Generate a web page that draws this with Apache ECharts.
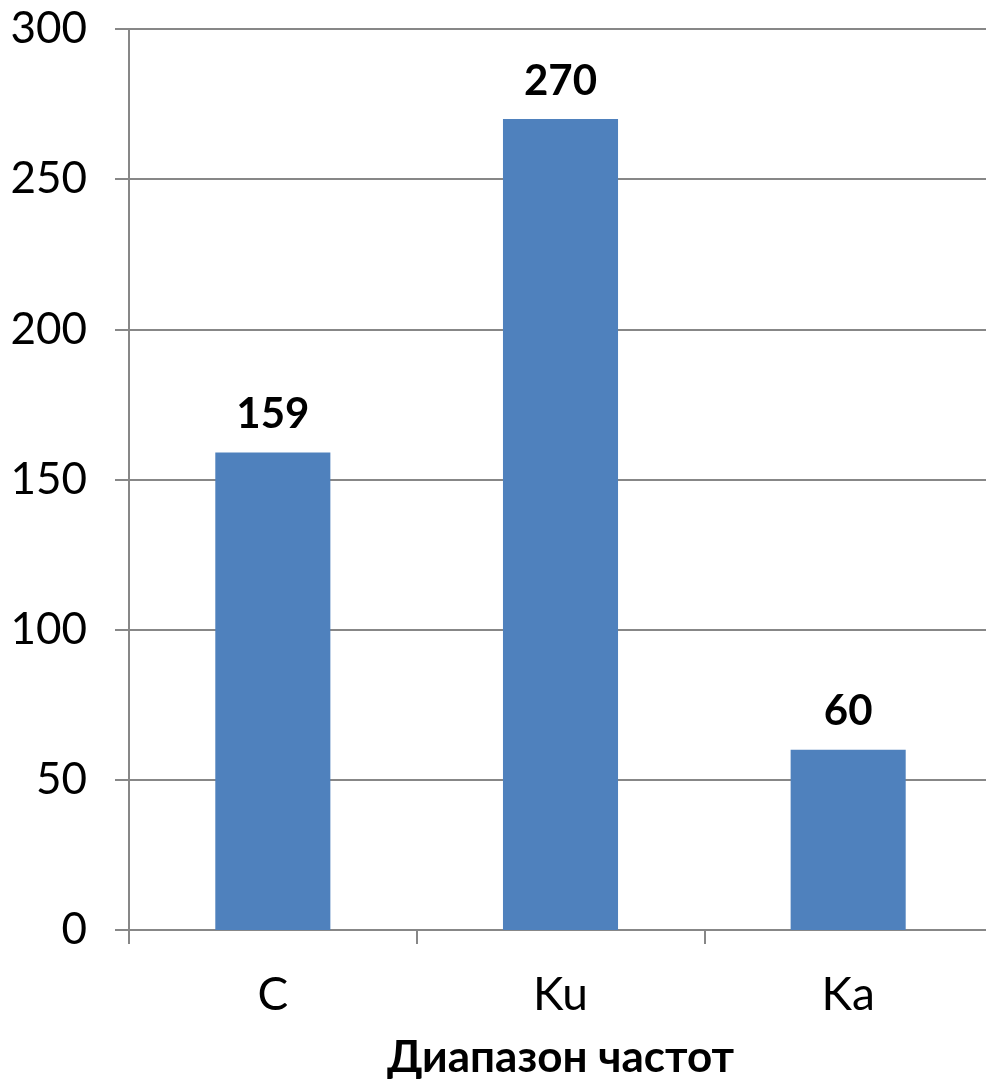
<!DOCTYPE html>
<html>
<head>
<meta charset="utf-8">
<script src="https://cdn.jsdelivr.net/npm/echarts@6/dist/echarts.min.js"></script>
<style>
  html, body { margin: 0; padding: 0; background: #fff; }
  #chart { width: 986px; height: 1081px; }
</style>
</head>
<body>
<div id="chart"></div>
<script>
// Frequency bands and counts
const categories = ['C', 'Ku', 'Ka'];
const values = [159, 270, 60];
const yTicks = [0, 50, 100, 150, 200, 250, 300];
const xAxisName = 'Диапазон частот';

const FONT = 'Lato, "Open Sans", sans-serif';
const AXIS_GRAY = '#878787';

const chart = echarts.init(document.getElementById('chart'), null, { renderer: 'canvas' });
chart.setOption({
  animation: false,
  backgroundColor: '#ffffff',
  grid: {
    left: 129, right: -6, top: 29, bottom: 151,
    containLabel: false,
    outerBoundsMode: 'none'
  },
  xAxis: {
    type: 'category',
    data: categories,
    name: xAxisName,
    nameLocation: 'middle',
    nameGap: 106,
    nameTextStyle: { fontFamily: FONT, fontSize: 44, fontWeight: 'bold', color: '#000' },
    axisLine: { lineStyle: { color: AXIS_GRAY, width: 2 } },
    axisTick: { show: true, length: 14, lineStyle: { color: AXIS_GRAY, width: 2 } },
    axisLabel: { fontFamily: FONT, fontSize: 46, color: '#000', margin: 42 }
  },
  yAxis: {
    type: 'value',
    min: yTicks[0],
    max: yTicks[yTicks.length - 1],
    interval: 50,
    axisLine: { show: true, lineStyle: { color: AXIS_GRAY, width: 2 } },
    axisTick: { show: true, length: 14, lineStyle: { color: AXIS_GRAY, width: 2 } },
    splitLine: { show: true, lineStyle: { color: AXIS_GRAY, width: 2 } },
    axisLabel: { fontFamily: FONT, fontSize: 44, color: '#000', margin: 42 }
  },
  series: [{
    type: 'bar',
    data: values,
    barWidth: '40%',
    itemStyle: { color: '#4F81BD' },
    label: {
      show: true,
      position: 'top',
      distance: 17,
      fontFamily: FONT,
      fontSize: 42,
      fontWeight: 'bold',
      color: '#000'
    }
  }]
});
</script>
</body>
</html>
